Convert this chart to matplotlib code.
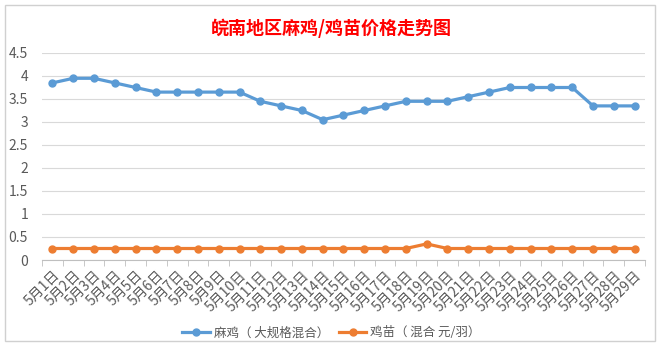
import matplotlib.pyplot as plt
from matplotlib.patches import Rectangle

plt.rcParams['font.family'] = ['Noto Sans CJK SC', 'DejaVu Sans']

# 数据
days = [f"5月{i}日" for i in range(1, 30)]
majI = [3.85, 3.95, 3.95, 3.85, 3.75, 3.65, 3.65, 3.65, 3.65, 3.65,
        3.45, 3.35, 3.25, 3.05, 3.15, 3.25, 3.35, 3.45, 3.45, 3.45,
        3.55, 3.65, 3.75, 3.75, 3.75, 3.75, 3.35, 3.35, 3.35]
jimiao = [0.25] * 18 + [0.35] + [0.25] * 10
yticks = [0, 0.5, 1, 1.5, 2, 2.5, 3, 3.5, 4, 4.5]
ytick_labels = ["0", "0.5", "1", "1.5", "2", "2.5", "3", "3.5", "4", "4.5"]

fig = plt.figure(figsize=(6.63, 3.57), dpi=100)
fig.patches.append(Rectangle((0.008, 0.045), 0.98, 0.94, transform=fig.transFigure,
                             fill=False, edgecolor="#d0d0d0", linewidth=1))

ax = fig.add_axes([42 / 663, 1 - 260 / 357, (645 - 42) / 663, (260 - 53) / 357])

x = list(range(len(days)))
ax.plot(x, majI, color="#5b9bd5", linewidth=2.3, marker="o", markersize=5,
        label="麻鸡（ 大规格混合）")
ax.plot(x, jimiao, color="#ed7d31", linewidth=2.3, marker="o", markersize=5,
        label="鸡苗（ 混合 元/羽）")

ax.set_xlim(-0.5, len(days) - 0.5)
ax.set_ylim(0, 4.5)
ax.set_yticks(yticks)
ax.set_yticklabels(ytick_labels)
ax.grid(axis="y", color="#d9d9d9", linewidth=0.8)
ax.set_axisbelow(True)

ax.set_xticks(x)
ax.set_xticklabels(days, rotation=45, ha="right", rotation_mode="anchor")
ax.set_xticks([i - 0.5 for i in range(len(days) + 1)], minor=True)
ax.tick_params(axis="x", which="major", length=0, labelsize=10, colors="#595959", pad=6)
ax.tick_params(axis="x", which="minor", length=4, color="#bfbfbf")
ax.tick_params(axis="y", length=0, labelsize=10, colors="#595959", pad=10)

for s in ["top", "right", "left"]:
    ax.spines[s].set_visible(False)
ax.spines["bottom"].set_color("#bfbfbf")

fig.text(0.5, 1 - 28 / 357, "皖南地区麻鸡/鸡苗价格走势图", color="red",
         fontsize=13, fontweight="bold", ha="center", va="center")

fig.legend(loc="center", bbox_to_anchor=(0.5, 1 - 333 / 357), ncol=2, frameon=False,
           fontsize=9, handlelength=2.2, columnspacing=0.8, handletextpad=0.3,
           labelcolor="#595959")

fig.savefig("out.png", dpi=100)
